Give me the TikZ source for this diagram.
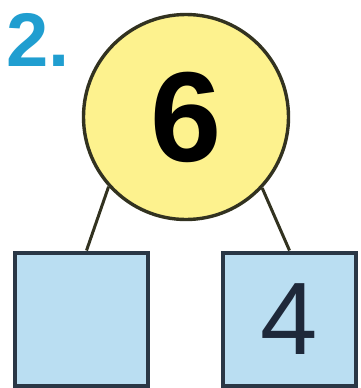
\documentclass[tikz,border=0pt]{standalone}
\usepackage{fontspec}
\setmainfont{Liberation Sans}
\usetikzlibrary{positioning}

\definecolor{numblue}{RGB}{32,158,208}
\definecolor{wholefill}{RGB}{253,242,142}
\definecolor{wholeline}{RGB}{50,50,32}
\definecolor{partfill}{RGB}{186,222,242}
\definecolor{partline}{RGB}{42,55,70}
\definecolor{partnum}{RGB}{30,40,58}

\begin{document}
\begin{tikzpicture}[
    x=1pt, y=-1pt,
    whole/.style = {circle, draw=wholeline, fill=wholefill, line width=3.4pt,
                    minimum size=205pt, inner sep=0pt,
                    font=\bfseries\fontsize{128}{128}\selectfont},
    part/.style  = {rectangle, draw=partline, fill=partfill, line width=4pt,
                    minimum width=133pt, minimum height=133pt, inner sep=0pt,
                    text=partnum, font=\fontsize{103}{103}\selectfont},
    link/.style  = {line width=3pt, wholeline},
    qnum/.style  = {text=numblue, font=\bfseries\fontsize{76}{76}\selectfont, inner sep=0pt},
]
\useasboundingbox (0,0) rectangle (360,388);

%% ---- Question number ----
\node[qnum] (qno) at (38,40) {2.};

%% ---- Whole and parts ----
\node[part] (lpart) at (81.5,319) {};
\node[part] (rpart) at (289.5,319) {4};
\node[whole] (wnum) at (186,117) {6};

%% ---- Connectors ----
\draw[link] (wnum.222) -- ([xshift=5pt]lpart.north);
\draw[link] (wnum.317) -- (rpart.north);

\end{tikzpicture}
\end{document}
